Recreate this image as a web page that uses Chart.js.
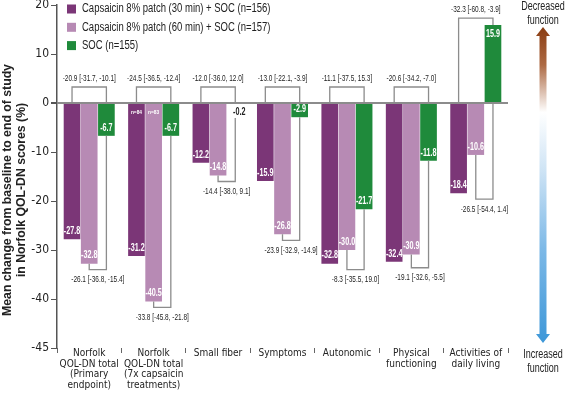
<!DOCTYPE html>
<html>
<head>
<meta charset="utf-8">
<script src="https://cdn.jsdelivr.net/npm/chart.js@4.4.1/dist/chart.umd.min.js"></script>
<style>
html,body{margin:0;padding:0;background:#fff;}
#c{display:block;}
</style>
</head>
<body>
<canvas id="c" width="567" height="405"></canvas>
<script>
'use strict';
const categories=[
  ['Norfolk','QOL-DN total','(Primary','endpoint)'],
  ['Norfolk','QOL-DN total','(7x capsaicin','treatments)'],
  'Small fiber','Symptoms','Autonomic',
  ['Physical','functioning'],
  ['Activities of','daily living']
];
const seriesNames=['Capsaicin 8% patch (30 min) + SOC (n=156)','Capsaicin 8% patch (60 min) + SOC (n=157)','SOC (n=155)'];
const patch30=[-27.8,-31.2,-12.2,-15.9,-32.8,-32.4,-18.4];
const patch60=[-32.8,-40.5,-14.8,-26.8,-30.0,-30.9,-10.6];
const soc=[-6.7,-6.7,-0.2,-2.9,-21.7,-11.8,15.9];
// difference vs SOC with CI
const diff30=['-20.9 [-31.7, -10.1]','-24.5 [-36.5, -12.4]','-12.0 [-36.0, 12.0]','-13.0 [-22.1, -3.9]','-11.1 [-37.5, 15.3]','-20.6 [-34.2, -7.0]','-32.3 [-60.8, -3.9]'];
const diff60=['-26.1 [-36.8, -15.4]','-33.8 [-45.8, -21.8]','-14.4 [-38.0, 9.1]','-23.9 [-32.9, -14.9]','-8.3 [-35.5, 19.0]','-19.1 [-32.6, -5.5]','-26.5 [-54.4, 1.4]'];
const notes30=[null,'n=84',null,null,null,null,null];
const notes60=[null,'n=83',null,null,null,null,null];
const yTicks=[20,10,0,-10,-20,-30,-40,-50];
const yTickLabels=['20','10','0','-10','-20','-30','-40','-45'];
const yTitle=['Mean change from baseline to end of study','in Norfolk QOL-DN scores (%)'];
const arrowTop=['Decreased','function'];
const arrowBottom=['Increased','function'];

const colors=['#7b3677','#b78ab4','#1f8a3b'];
const SANS="'Liberation Sans',Arial,sans-serif";
const COND="'DejaVu Sans Condensed','DejaVu Sans',sans-serif";

function drawText(ctx,txt,x,y,font,color,sx,align){
  ctx.save();
  ctx.font=font;ctx.fillStyle=color;
  ctx.textAlign=align||'center';ctx.textBaseline='middle';
  ctx.translate(x,y);ctx.scale(sx||1,1);
  ctx.fillText(txt,0,0);
  ctx.restore();
}

const annotate={
  id:'annotate',
  afterDatasetsDraw(chart){
    const ctx=chart.ctx;
    const y=chart.scales.y;
    const y0=y.getPixelForValue(0);
    const m=[0,1,2].map(i=>chart.getDatasetMeta(i).data);
    const outsideBottom={};
    // value labels
    chart.data.datasets.forEach((ds,di)=>{
      m[di].forEach((bar,i)=>{
        const v=ds.data[i];
        const h=Math.abs(bar.y-bar.base);
        const txt=v.toFixed(1);
        if(h<10){
          drawText(ctx,txt,bar.x+4,bar.y+8,'bold 10px '+SANS,'#222',0.72);
          if(di===2)outsideBottom[i]=bar.y+14;
        }else{
          drawText(ctx,txt,bar.x,v<0?bar.y-8:bar.y+9,'bold 10px '+SANS,'#fff',0.72);
        }
      });
    });
    [[notes30,0],[notes60,1]].forEach(([notes,di])=>{
      notes.forEach((n,i)=>{
        if(n)drawText(ctx,n,m[di][i].x,y0+9,'bold 6px '+SANS,'#fff',0.8);
      });
    });
    // brackets
    ctx.save();
    ctx.strokeStyle='#8c8c8c';
    ctx.lineWidth=1.3;
    for(let i=0;i<categories.length;i++){
      const a=m[0][i],b=m[1][i],c=m[2][i];
      const topA=Math.min(a.y,a.base),topC=Math.min(c.y,c.base);
      const lvl=Math.min(y0-16,topC-7,topA-7);
      ctx.beginPath();
      ctx.moveTo(a.x,topA);ctx.lineTo(a.x,lvl);ctx.lineTo(c.x,lvl);ctx.lineTo(c.x,topC);
      ctx.stroke();
      drawText(ctx,diff30[i],(a.x+c.x)/2,lvl-8,'8.5px '+SANS,'#222',0.76);

      const botA=Math.max(a.y,a.base),botB=Math.max(b.y,b.base);
      let botC=Math.max(c.y,c.base);
      if(outsideBottom[i])botC=outsideBottom[i];
      const lvl2=Math.max(botA,botB,botC)+6;
      ctx.beginPath();
      ctx.moveTo(b.x,botB);ctx.lineTo(b.x,lvl2);ctx.lineTo(c.x,lvl2);ctx.lineTo(c.x,botC);
      ctx.stroke();
      drawText(ctx,diff60[i],(b.x+c.x)/2,lvl2+10,'8.5px '+SANS,'#222',0.76);
    }
    ctx.restore();
  },
  afterDraw(chart){
    const ctx=chart.ctx;
    // legend
    chart.data.datasets.forEach((ds,i)=>{
      const cy=9+i*18.3;
      ctx.fillStyle=ds.backgroundColor;
      ctx.fillRect(67,cy-4.5,9,9);
      drawText(ctx,ds.label,82,cy,'12.5px '+SANS,'#222',0.76,'left');
    });
    // y title
    ctx.save();
    ctx.translate(0,190);
    ctx.rotate(-Math.PI/2);
    ctx.scale(0.98,1);
    ctx.font='bold 12.5px '+SANS;
    ctx.fillStyle='#222';
    ctx.textAlign='center';ctx.textBaseline='middle';
    ctx.fillText(yTitle[0],0,8);
    ctx.fillText(yTitle[1],0,22);
    ctx.restore();
    // direction arrow
    const ax=543,t=27,b=343,hh=9,hw=7,sw=3.5;
    const g=ctx.createLinearGradient(0,t,0,b);
    g.addColorStop(0,'#8a3c12');
    g.addColorStop(0.12,'#ad6a44');
    g.addColorStop(0.27,'#ffffff');
    g.addColorStop(0.45,'#cfe4f5');
    g.addColorStop(0.7,'#7db9e7');
    g.addColorStop(1,'#3d97d8');
    ctx.save();
    ctx.fillStyle=g;
    ctx.beginPath();
    ctx.moveTo(ax,t);ctx.lineTo(ax+hw,t+hh);ctx.lineTo(ax+sw,t+hh);
    ctx.lineTo(ax+sw,b-hh);ctx.lineTo(ax+hw,b-hh);ctx.lineTo(ax,b);
    ctx.lineTo(ax-hw,b-hh);ctx.lineTo(ax-sw,b-hh);ctx.lineTo(ax-sw,t+hh);
    ctx.lineTo(ax-hw,t+hh);ctx.closePath();
    ctx.fill();
    ctx.restore();
    drawText(ctx,arrowTop[0],ax,7,'12.5px '+SANS,'#222',0.72);
    drawText(ctx,arrowTop[1],ax,21,'12.5px '+SANS,'#222',0.72);
    drawText(ctx,arrowBottom[0],ax,355,'12.5px '+SANS,'#222',0.72);
    drawText(ctx,arrowBottom[1],ax,369,'12.5px '+SANS,'#222',0.72);
  }
};

const datasets=[patch30,patch60,soc].map((d,i)=>({
  label:seriesNames[i],
  data:d,
  backgroundColor:colors[i],
  borderWidth:0,
  barPercentage:0.97,
  categoryPercentage:0.8
}));

new Chart(document.getElementById('c'),{
  type:'bar',
  data:{labels:categories,datasets},
  plugins:[annotate],
  options:{
    responsive:false,
    devicePixelRatio:1,
    animation:false,
    layout:{padding:{top:0,right:59,bottom:0,left:0}},
    plugins:{legend:{display:false},tooltip:{enabled:false}},
    scales:{
      x:{
        grid:{drawOnChartArea:false,drawTicks:true,tickLength:5,color:'#666',offset:true},
        border:{display:false},
        ticks:{font:{family:COND,size:10,lineHeight:1.07},color:'#222',maxRotation:0,autoSkip:false,padding:-5},
        afterFit(s){s.height=57;s.paddingLeft=0;s.paddingRight=0;}
      },
      y:{
        min:-50,max:20,
        afterBuildTicks(s){s.ticks=yTicks.map(v=>({value:v}));},
        ticks:{callback:v=>yTickLabels[yTicks.indexOf(v)],font:{family:COND,size:12},color:'#222',padding:2},
        grid:{
          color:c=>c.tick&&c.tick.value===0?'#8c8c8c':'rgba(0,0,0,0)',
          lineWidth:c=>c.tick&&c.tick.value===0?2:1,
          tickColor:'#555',tickLength:6,drawOnChartArea:true
        },
        border:{display:true,color:'#555',width:1.5},
        afterFit(s){s.width=57;s.paddingTop=5;s.paddingBottom=0;}
      }
    }
  }
});
</script>
</body>
</html>
